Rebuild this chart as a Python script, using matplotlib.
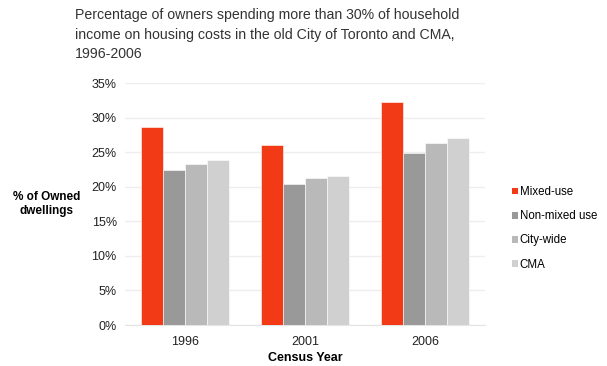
import matplotlib
matplotlib.use('Agg')
import matplotlib.pyplot as plt
import numpy as np
from matplotlib.patches import Patch

plt.rcParams['font.family'] = ['Liberation Sans', 'DejaVu Sans']

# Data
years = ['1996', '2001', '2006']
series_names = ['Mixed-use', 'Non-mixed use', 'City-wide', 'CMA']
mixed_use = [28.7, 26.0, 32.2]
non_mixed_use = [22.4, 20.4, 24.9]
city_wide = [23.3, 21.3, 26.3]
cma = [23.8, 21.5, 27.0]
yticks = [0, 5, 10, 15, 20, 25, 30, 35]

COLORS = ['#f23a16', '#999999', '#b9b9b9', '#d0d0d0']

fig = plt.figure(figsize=(6.07, 3.66), dpi=100)
ax = fig.add_axes([0.206, 0.112, 0.593, 0.661])

x = np.arange(len(years))
bar_w = 0.183
all_series = [mixed_use, non_mixed_use, city_wide, cma]
for i, (vals, col) in enumerate(zip(all_series, COLORS)):
    ax.bar(x + (i - 1.5) * bar_w, vals, bar_w, color=col,
           edgecolor='white', linewidth=0.4, zorder=3)

ax.set_xlim(-0.5, len(years) - 0.5)
ax.set_ylim(0, 35)
ax.set_yticks(yticks)
ax.set_yticklabels([f'{t}%' for t in yticks], fontsize=9, color='#222222')
ax.set_xticks(x)
ax.set_xticklabels(years, fontsize=9, color='#222222')
ax.tick_params(axis='y', length=0, pad=6)
ax.tick_params(axis='x', length=0, pad=8)
ax.grid(axis='y', color='#eeeeee', linewidth=1, zorder=0)
for s in ['top', 'right', 'left']:
    ax.spines[s].set_visible(False)
ax.spines['bottom'].set_color('#e4e4e4')

ax.set_xlabel('Census Year', fontsize=9, fontweight='bold', labelpad=3)
fig.text(0.077, 0.443, '% of Owned\ndwellings', fontsize=8.5, fontweight='bold',
         ha='center', va='center', linespacing=1.15)

fig.text(0.124, 0.978, 'Percentage of owners spending more than 30% of household\n'
         'income on housing costs in the old City of Toronto and CMA,\n1996-2006',
         fontsize=10.2, color='#333333', ha='left', va='top', linespacing=1.5)

handles = [Patch(facecolor=c, edgecolor='none', label=n)
           for c, n in zip(COLORS, series_names)]
fig.legend(handles=handles, loc='center left', bbox_to_anchor=(0.826, 0.376),
           frameon=False, fontsize=8.3, handlelength=0.5, handleheight=0.5,
           handletextpad=0.2, labelspacing=1.05)

fig.savefig('out.png', dpi=100, facecolor='white')
